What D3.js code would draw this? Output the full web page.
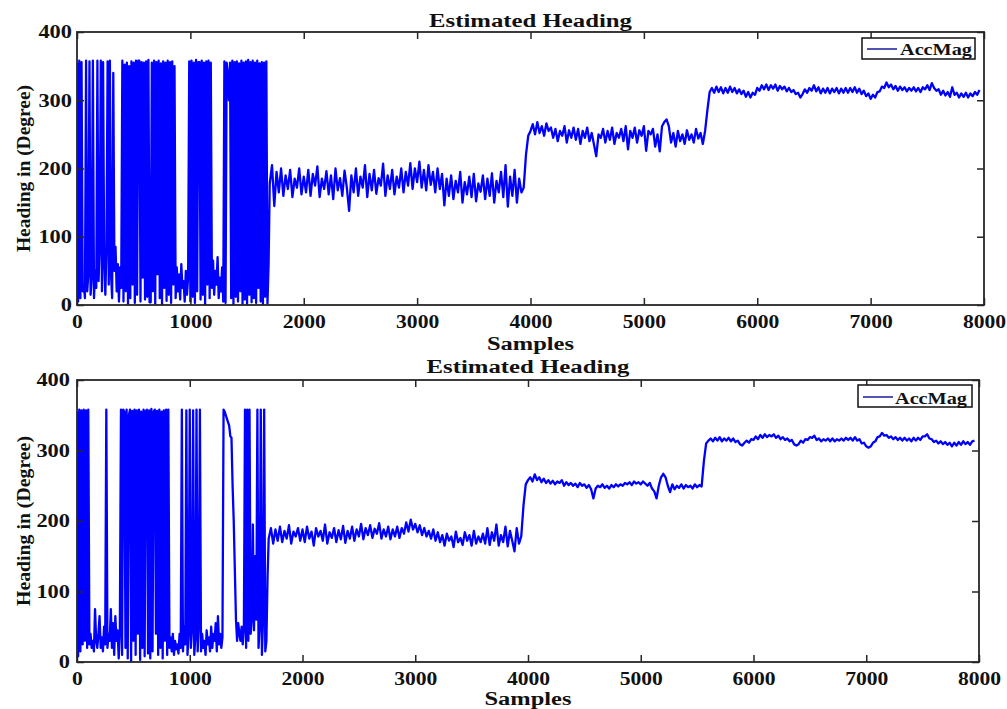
<!DOCTYPE html>
<html>
<head>
<meta charset="utf-8">
<script src="https://cdn.jsdelivr.net/npm/d3@7"></script>
<style>
  html, body { margin: 0; padding: 0; background: #fff; }
  svg text { font-family: "Liberation Serif", "Times New Roman", serif; font-weight: bold; fill: #111; }
</style>
</head>
<body>
<div id="chart"></div>
<script>
// --- Data
// wrap part: samples 0..1690, one value every 10 samples
// steady part: samples 1700..7960, one value every 20 samples
const WRAP_STEP = 10;
const STEADY_START = 1700;
const STEADY_STEP = 20;
const xTicks = [0, 1000, 2000, 3000, 4000, 5000, 6000, 7000, 8000];
const yTicks = [0, 100, 200, 300, 400];
const titleText = "Estimated Heading";
const xLabelText = "Samples";
const yLabelText = "Heading in (Degree)";
const seriesName = "AccMag";

const topWrap = [
  355, 5, 358, 10, 356, 20, 30, 10, 358, 20,
  45, 357, 15, 40, 358, 10, 50, 25, 358, 35,
  85, 358, 20, 356, 60, 15, 88, 357, 30, 358,
  45, 10, 340, 50, 85, 20, 60, 5, 55, 25,
  358, 5, 352, 20, 355, 0, 350, 10, 357, 30,
  355, 3, 358, 15, 358, 358, 5, 356, 40, 355,
  8, 357, 12, 359, 4, 4, 355, 20, 358, 2,
  356, 45, 358, 10, 354, 0, 357, 25, 355, 6,
  358, 15, 356, 3, 357, 30, 350, 10, 55, 20,
  45, 8, 60, 25, 35, 5, 50, 15, 40, 357,
  5, 358, 12, 355, 3, 359, 20, 356, 356, 8,
  358, 15, 355, 0, 357, 30, 358, 10, 355, 25,
  65, 15, 50, 30, 70, 10, 40, 20, 55, 5,
  357, 3, 355, 340, 300, 355, 10, 358, 0, 356,
  12, 357, 5, 354, 20, 358, 2, 355, 8, 357,
  0, 359, 15, 356, 4, 358, 10, 355, 3, 358,
  25, 354, 5, 356, 0, 355, 12, 357, 2, 60
];

const topSteady = [
  178, 205, 145, 195, 165, 200, 160, 190, 170, 198, 158, 185, 172, 200, 162,
  188, 165, 198, 160, 192, 175, 203, 158, 185, 170, 196, 162, 190, 155, 200, 168, 186, 160, 197, 172,
  138, 190, 165, 200, 160, 188, 172, 205, 158, 192, 168, 198, 163, 186, 175, 207, 160, 190, 170, 198,
  162, 188, 172, 200, 165, 195, 175, 208, 170, 200, 180, 210, 172, 198, 168, 205, 176, 195, 165, 200,
  170, 192, 146, 185, 160, 190, 155, 182, 165, 195, 150, 180, 162, 188, 158, 192, 152, 178, 166, 190,
  155, 185, 160, 193, 150, 182, 165, 195, 158, 205, 144, 188, 160, 198, 150, 185, 165, 172, 220, 248,
  255, 265, 250, 268, 252, 262, 248, 266, 255, 260, 245, 258, 240, 255, 248, 262, 238, 256, 245, 260,
  242, 258, 236, 255, 245, 260, 240, 252, 235, 218, 250, 245, 258, 238, 255, 242, 260, 236, 252, 245,
  258, 240, 262, 228, 255, 245, 260, 238, 256, 248, 262, 226, 255, 250, 258, 232, 250, 225, 262, 268,
  272, 262, 238, 252, 232, 255, 240, 250, 236, 256, 242, 250, 238, 258, 244, 252, 236, 255, 285, 312,
  318, 311, 320, 312, 319, 310, 318, 311, 320, 312, 318, 310, 316, 309, 314, 305, 312, 304, 311, 308,
  318, 314, 322, 316, 323, 315, 322, 317, 323, 314, 321, 316, 320, 313, 318, 312, 315, 309, 311, 304,
  309, 316, 311, 318, 314, 322, 313, 319, 310, 317, 311, 318, 310, 317, 312, 318, 310, 317, 311, 318,
  311, 318, 312, 319, 311, 317, 309, 314, 306, 310, 302, 308, 304, 312, 313, 320, 318, 326, 319, 323,
  316, 321, 314, 320, 315, 319, 313, 318, 314, 319, 313, 318, 312, 319, 316, 322, 315, 325, 318, 314,
  316, 308, 314, 307, 312, 305, 319, 308, 311, 304, 310, 305, 311, 304, 310, 306, 312, 308, 315
];

const bottomWrap = [
  355, 8, 358, 15, 357, 25, 358, 30, 357, 20,
  358, 25, 40, 20, 30, 15, 75, 30, 20, 40,
  65, 20, 35, 15, 50, 25, 358, 20, 40, 30,
  75, 20, 55, 10, 65, 30, 45, 5, 40, 358,
  10, 358, 355, 20, 358, 5, 350, 358, 0, 356,
  30, 358, 10, 357, 40, 358, 3, 355, 20, 358,
  8, 356, 358, 12, 357, 5, 359, 15, 355, 358,
  40, 356, 10, 358, 20, 355, 5, 357, 30, 358,
  10, 358, 20, 35, 15, 40, 10, 30, 18, 25,
  12, 40, 20, 358, 15, 50, 25, 357, 10, 40,
  358, 20, 45, 357, 10, 35, 358, 15, 50, 358,
  15, 40, 20, 30, 10, 45, 25, 35, 15, 50,
  20, 40, 30, 55, 15, 65, 25, 40, 20, 35,
  358, 355, 350, 345, 340, 335, 320, 318, 250, 200,
  130, 60, 30, 55, 40, 30, 50, 25, 45, 358,
  20, 358, 30, 358, 40, 60, 195, 45, 150, 60,
  358, 20, 50, 358, 10, 60, 358, 15, 30, 120
];

const bottomSteady = [
  175, 190, 168, 188, 172, 192, 170, 186, 175, 194, 168, 185, 178, 190, 172,
  188, 170, 192, 175, 185, 165, 190, 178, 186, 172, 195, 168, 184, 176, 190, 170, 187, 174, 193, 169,
  186, 175, 192, 172, 188, 178, 196, 174, 190, 180, 194, 176, 189, 182, 197, 175, 188, 178, 192, 174,
  188, 178, 192, 176, 190, 182, 198, 185, 202, 188, 196, 184, 194, 180, 190, 178, 186, 175, 188, 172,
  184, 170, 180, 165, 182, 172, 178, 163, 185, 170, 176, 166, 184, 172, 180, 165, 186, 168, 178, 170,
  182, 168, 190, 166, 184, 172, 195, 165, 180, 170, 192, 164, 186, 172, 157, 190, 168, 178, 222, 252,
  258, 262, 256, 266, 258, 262, 255, 260, 254, 258, 253, 257, 252, 256, 254, 258, 250, 255, 251, 254,
  250, 253, 248, 254, 250, 252, 247, 251, 245, 232, 246, 250, 248, 252, 247, 250, 246, 251, 248, 252,
  249, 252, 250, 254, 252, 255, 251, 256, 253, 255, 252, 256, 253, 250, 254, 246, 242, 232, 250, 262,
  267, 262, 250, 241, 252, 245, 250, 247, 252, 246, 251, 248, 250, 246, 252, 248, 251, 249, 285, 310,
  314, 317, 313, 318, 314, 319, 313, 317, 314, 318, 313, 317, 312, 314, 309, 307, 311, 314, 311, 316,
  315, 320, 316, 322, 318, 323, 319, 322, 320, 323, 318, 321, 316, 319, 315, 317, 313, 315, 309, 307,
  309, 314, 311, 316, 315, 319, 318, 321, 315, 317, 313, 316, 314, 317, 313, 317, 313, 316, 314, 317,
  314, 318, 315, 318, 314, 319, 314, 316, 310, 311, 306, 304, 306, 311, 313, 319, 320, 325, 321, 322,
  318, 320, 316, 319, 315, 318, 314, 318, 314, 317, 313, 318, 314, 318, 315, 320, 320, 323, 317, 316,
  312, 314, 310, 313, 309, 312, 308, 311, 306, 311, 307, 312, 308, 313, 309, 312, 308, 313, 314
];

// sample index for every value of both parts
const toPoints = (wrap, steady) => [
  ...wrap.map((v, j) => ({ s: j * WRAP_STEP, v })),
  ...steady.map((v, i) => ({ s: STEADY_START + i * STEADY_STEP, v }))
];

// --- Layout of the two panels
const panels = [
  { points: toPoints(topWrap, topSteady), left: 77, right: 984, top: 32, bottom: 305,
    titleY: 27, xLabelY: 350, yLabelLen: 167, yPad: 5,
    legend: { x: 862, y: 38, w: 113, h: 21, lineY: 49, textX: 900, textY: 55 } },
  { points: toPoints(bottomWrap, bottomSteady), left: 77, right: 979, top: 380, bottom: 662,
    titleY: 373, xLabelY: 705, yLabelLen: 170, yPad: 7,
    legend: { x: 858, y: 385, w: 114, h: 22, lineY: 397, textX: 895, textY: 404 } }
];

const width = 1007, height = 709;
const frameColor = "#262626";
const lineColor = "#0000ff";

const svg = d3.select("#chart").append("svg")
  .attr("width", width)
  .attr("height", height)
  .attr("viewBox", [0, 0, width, height]);

// stretch a text to a given width, the picture's fonts are wide
const fitText = (sel, len) => sel.attr("textLength", len).attr("lengthAdjust", "spacingAndGlyphs");

panels.forEach((p, k) => {
  const x = d3.scaleLinear().domain([0, 8000]).range([p.left, p.right]);
  const y = d3.scaleLinear().domain([0, 400]).range([p.bottom, p.top]);
  const g = svg.append("g").attr("class", "panel" + k);

  g.append("clipPath").attr("id", "clip" + k)
    .append("rect")
    .attr("x", p.left).attr("y", p.top)
    .attr("width", p.right - p.left).attr("height", p.bottom - p.top);

  // data line
  const line = d3.line()
    .x(d => x(d.s))
    .y(d => y(d.v));

  g.append("path")
    .datum(p.points)
    .attr("clip-path", `url(#clip${k})`)
    .attr("fill", "none")
    .attr("stroke", lineColor)
    .attr("stroke-width", 2.3)
    .attr("stroke-linejoin", "round")
    .attr("d", line);

  // axes, MATLAB style ticks pointing inward
  const styleAxis = a => {
    a.select(".domain").remove();
    a.selectAll(".tick line").attr("stroke", frameColor).attr("stroke-width", 1.5);
    a.selectAll("text")
      .attr("font-size", 18)
      .attr("fill", "#111");
  };

  g.append("g")
    .attr("transform", `translate(0,${p.bottom})`)
    .call(d3.axisBottom(x).tickValues(xTicks).tickSizeInner(-7).tickSizeOuter(0).tickPadding(10).tickFormat(d3.format("d")))
    .call(styleAxis)
    .call(a => a.selectAll("text").each(function(d) { fitText(d3.select(this), String(d).length * 10.8); }));

  g.append("g")
    .attr("transform", `translate(0,${p.top})`)
    .call(d3.axisTop(x).tickValues(xTicks).tickSizeInner(-7).tickSizeOuter(0).tickFormat(""))
    .call(styleAxis);

  g.append("g")
    .attr("transform", `translate(${p.left},0)`)
    .call(d3.axisLeft(y).tickValues(yTicks).tickSizeInner(-7).tickSizeOuter(0).tickPadding(p.yPad).tickFormat(d3.format("d")))
    .call(styleAxis)
    .call(a => a.selectAll("text").each(function(d) { fitText(d3.select(this), String(d).length * 11.2); }));

  g.append("g")
    .attr("transform", `translate(${p.right},0)`)
    .call(d3.axisRight(y).tickValues(yTicks).tickSizeInner(-7).tickSizeOuter(0).tickFormat(""))
    .call(styleAxis);

  g.append("rect")
    .attr("x", p.left).attr("y", p.top)
    .attr("width", p.right - p.left).attr("height", p.bottom - p.top)
    .attr("fill", "none")
    .attr("stroke", frameColor)
    .attr("stroke-width", 1.8);

  // texts
  const cx = (p.left + p.right) / 2;
  g.append("text")
    .attr("x", cx).attr("y", p.titleY)
    .attr("text-anchor", "middle")
    .attr("font-size", 18)
    .text(titleText)
    .call(fitText, 203);

  g.append("text")
    .attr("x", cx).attr("y", p.xLabelY)
    .attr("text-anchor", "middle")
    .attr("font-size", 18)
    .text(xLabelText)
    .call(fitText, 87);

  g.append("text")
    .attr("transform", `translate(30,${(p.top + p.bottom) / 2}) rotate(-90)`)
    .attr("text-anchor", "middle")
    .attr("font-size", 19)
    .text(yLabelText)
    .call(fitText, p.yLabelLen);

  // legend
  const L = p.legend;
  g.append("rect")
    .attr("x", L.x).attr("y", L.y).attr("width", L.w).attr("height", L.h)
    .attr("fill", "#fff")
    .attr("stroke", "#111")
    .attr("stroke-width", 1.5);

  g.append("line")
    .attr("x1", L.x + 5).attr("x2", L.x + 35)
    .attr("y1", L.lineY).attr("y2", L.lineY)
    .attr("stroke", "#1a1a9a")
    .attr("stroke-width", 1.5);

  g.append("text")
    .attr("x", L.textX).attr("y", L.textY)
    .attr("font-size", 17)
    .text(seriesName)
    .call(fitText, 72);
});
</script>
</body>
</html>
